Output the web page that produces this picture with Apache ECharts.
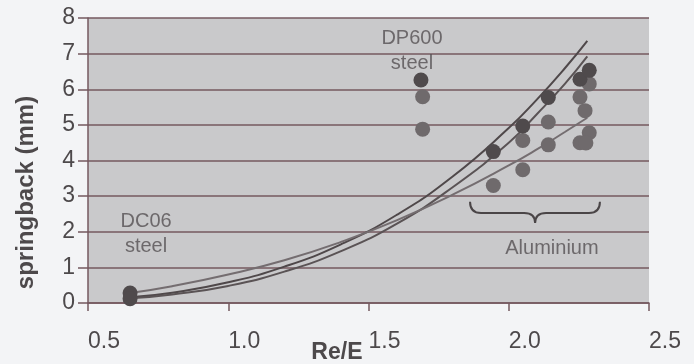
<!DOCTYPE html>
<html>
<head>
<meta charset="utf-8">
<script src="https://cdn.jsdelivr.net/npm/echarts@6/dist/echarts.min.js"></script>
<style>
  html, body { margin: 0; padding: 0; background: #f3f4f6; }
  #chart { width: 694px; height: 364px; }
</style>
</head>
<body>
<div id="chart"></div>
<script>
// values
const curveX = [0.65, 0.8, 1.0, 1.2, 1.4, 1.6, 1.8, 2.0, 2.1, 2.2, 2.28]
const curveA = [0.16, 0.29, 0.58, 1.02, 1.64, 2.47, 3.55, 4.91, 5.71, 6.59, 7.36]
const curveB = [0.13, 0.24, 0.48, 0.88, 1.45, 2.22, 3.25, 4.5, 5.3, 6.15, 6.92]
const curveC = [0.28, 0.47, 0.80, 1.20, 1.71, 2.32, 3.04, 3.86, 4.31, 4.80, 5.20]

const darkPoints = [
  [0.65, 0.28], [0.65, 0.12],
  [1.687, 6.26],
  [1.945, 4.25], [2.05, 4.97], [2.141, 5.77], [2.254, 6.28], [2.287, 6.53]
]
const lightPoints = [
  [1.693, 5.79], [1.693, 4.88],
  [1.945, 3.30], [2.05, 4.56], [2.05, 3.74], [2.141, 5.08], [2.141, 4.44],
  [2.287, 6.15], [2.254, 5.78], [2.272, 5.40], [2.287, 4.78], [2.254, 4.50], [2.275, 4.49]
]

const xTicks = [0.5, 1.0, 1.5, 2.0, 2.5]
const yTicks = [0, 1, 2, 3, 4, 5, 6, 7, 8]

const notes = [
  { name: 'DP600\nsteel', value: [1.655, 7.08] },
  { name: 'DC06\nsteel', value: [0.707, 1.94] },
  { name: 'Aluminium', value: [2.154, 1.54] }
]
// x from, x to, x of tip, y of ends, y of bar, y of tip
const brace = [[1.862, 2.325, 2.094, 2.845, 2.528, 2.247]]

const font = 'Liberation Sans, Arial, sans-serif'
const textColor = '#4d494b'
const gridColor = '#74585f'

const pairs = ys => curveX.map((x, i) => [x, ys[i]])

const chart = echarts.init(document.getElementById('chart'))
chart.setOption({
  animation: false,
  backgroundColor: '#f3f4f6',
  grid: {
    left: 88,
    right: 45,
    top: 18,
    bottom: 61,
    outerBoundsMode: 'none',
    show: true,
    backgroundColor: '#c9c9cb',
    borderWidth: 0
  },
  xAxis: {
    type: 'value',
    min: xTicks[0],
    max: xTicks[xTicks.length - 1],
    interval: 0.5,
    name: 'Re/E',
    nameLocation: 'middle',
    nameGap: 38,
    nameMoveOverlap: false,
    nameTextStyle: {
      fontFamily: font,
      fontSize: 23,
      fontWeight: 'bold',
      color: textColor,
      align: 'right',
      padding: [0, 6, 0, 0]
    },
    axisLine: { show: true, lineStyle: { color: gridColor, width: 1.5 } },
    axisTick: { show: true, length: 8, lineStyle: { color: gridColor, width: 1.5 } },
    axisLabel: {
      margin: 27,
      fontFamily: font,
      fontSize: 23,
      color: textColor,
      align: 'left',
      formatter: v => v.toFixed(1)
    },
    splitLine: { show: false }
  },
  yAxis: {
    type: 'value',
    min: yTicks[0],
    max: yTicks[yTicks.length - 1],
    interval: 1,
    name: 'springback (mm)',
    nameLocation: 'middle',
    nameGap: 50,
    nameRotate: 90,
    nameMoveOverlap: false,
    nameTextStyle: {
      fontFamily: font,
      fontSize: 24,
      fontWeight: 'bold',
      color: textColor,
      padding: [0, 64, 0, 0]
    },
    axisLine: { show: true, lineStyle: { color: gridColor, width: 1.5 } },
    axisTick: { show: true, length: 10, lineStyle: { color: gridColor, width: 1.5 } },
    axisLabel: {
      margin: 13,
      fontFamily: font,
      fontSize: 23,
      color: textColor
    },
    splitLine: { show: true, lineStyle: { color: gridColor, width: 1.5 } }
  },
  series: [
    {
      name: 'fit A',
      type: 'line',
      smooth: true,
      showSymbol: false,
      data: pairs(curveA),
      lineStyle: { color: '#4f484a', width: 2 },
      z: 3
    },
    {
      name: 'fit B',
      type: 'line',
      smooth: true,
      showSymbol: false,
      data: pairs(curveB),
      lineStyle: { color: '#5a5355', width: 2 },
      z: 3
    },
    {
      name: 'fit C',
      type: 'line',
      smooth: true,
      showSymbol: false,
      data: pairs(curveC),
      lineStyle: { color: '#746d70', width: 2 },
      z: 3
    },
    {
      name: 'measured',
      type: 'scatter',
      symbolSize: 15,
      data: lightPoints,
      itemStyle: { color: '#6f6a6c', opacity: 1 },
      z: 4
    },
    {
      name: 'measured dark',
      type: 'scatter',
      symbolSize: 15,
      data: darkPoints,
      itemStyle: { color: '#4f4a4c', opacity: 1 },
      z: 5
    },
    {
      name: 'notes',
      type: 'scatter',
      symbolSize: 1,
      silent: true,
      data: notes,
      itemStyle: { color: 'rgba(0,0,0,0)' },
      label: {
        show: true,
        position: 'inside',
        formatter: p => p.name,
        fontFamily: font,
        fontSize: 20,
        lineHeight: 25,
        color: '#555052',
        align: 'center'
      },
      z: 6
    },
    {
      name: 'brace',
      type: 'custom',
      silent: true,
      data: brace,
      renderItem(params, api) {
        const l = api.coord([api.value(0), api.value(3)])
        const r = api.coord([api.value(1), api.value(3)])
        const t = api.coord([api.value(2), api.value(5)])
        const yb = api.coord([api.value(0), api.value(4)])[1]
        const k = 11
        const d = [
          'M', l[0], l[1],
          'Q', l[0], yb, l[0] + k, yb,
          'L', t[0] - k, yb,
          'Q', t[0], yb, t[0], t[1],
          'Q', t[0], yb, t[0] + k, yb,
          'L', r[0] - k, yb,
          'Q', r[0], yb, r[0], r[1]
        ].join(' ')
        return {
          type: 'path',
          shape: { pathData: d },
          style: { fill: 'none', stroke: '#4a4547', lineWidth: 2 }
        }
      },
      z: 6
    }
  ]
})
</script>
</body>
</html>
